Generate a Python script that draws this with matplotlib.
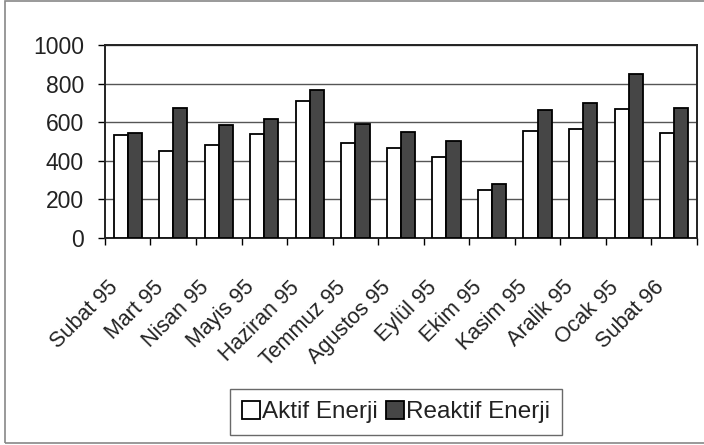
import numpy as np
import matplotlib.pyplot as plt
from matplotlib.patches import Rectangle

plt.rcParams['font.family'] = ['Liberation Sans', 'DejaVu Sans']

months = ["Subat 95", "Mart 95", "Nisan 95", "Mayis 95", "Haziran 95", "Temmuz 95",
          "Agustos 95", "Eylül 95", "Ekim 95", "Kasim 95", "Aralik 95", "Ocak 95",
          "Subat 96"]
aktif = [533, 450, 484, 538, 709, 490, 467, 419, 249, 557, 564, 670, 545]
reaktif = [543, 675, 583, 618, 766, 593, 550, 505, 279, 661, 697, 848, 676]
yticks = [0, 200, 400, 600, 800, 1000]

fig = plt.figure(figsize=(7.04, 4.45), dpi=100)
ax = fig.add_axes([0.149, 0.465, 0.841, 0.434])

x = np.arange(len(months))
w = 0.31
ax.bar(x - w / 2, aktif, w, color="white", edgecolor="black", linewidth=1.3,
       label="Aktif Enerji", zorder=3)
ax.bar(x + w / 2, reaktif, w, color="#464646", edgecolor="black", linewidth=1.3,
       label="Reaktif Enerji", zorder=3)

ax.set_xlim(-0.5, len(months) - 0.5)
ax.set_ylim(0, 1000)
ax.set_yticks(yticks)
ax.set_yticklabels([str(v) for v in yticks], fontsize=16.5, color="#222222")
ax.yaxis.grid(True, color="#555555", linewidth=1.0, zorder=0)

# tick marks sit between categories; the slanted labels end a little
# left of each category centre
ax.set_xticks(np.arange(len(months) + 1) - 0.5)
ax.set_xticklabels([])
ax.set_xticks(x - 0.45, minor=True)
ax.set_xticklabels(months, minor=True, rotation=45, ha="right",
                   rotation_mode="anchor", fontsize=15.5, color="#222222")
ax.tick_params(axis="x", which="minor", length=0, pad=28)
ax.tick_params(axis="x", which="major", length=5, width=1.0, direction="out")
ax.tick_params(axis="y", length=5, width=1.0, direction="out", pad=10)
for s in ax.spines.values():
    s.set_linewidth(1.4)
    s.set_color("#222222")

leg = fig.legend(loc="center", bbox_to_anchor=(0.5625, 0.074), ncol=2,
                 fontsize=17.5, frameon=True, fancybox=False, edgecolor="#444444",
                 handlelength=0.75, handleheight=0.75, handletextpad=0.1,
                 columnspacing=0.3, borderpad=0.5, borderaxespad=0)
leg.get_frame().set_linewidth(1.0)
for t in leg.get_texts():
    t.set_color("#222222")

# thin grey frame around the whole chart
fig.patches.append(Rectangle((0.007, 0.004), 1.1, 0.993, transform=fig.transFigure,
                             fill=False, edgecolor="#888888", linewidth=1.2))

fig.savefig("out.png", dpi=100)
